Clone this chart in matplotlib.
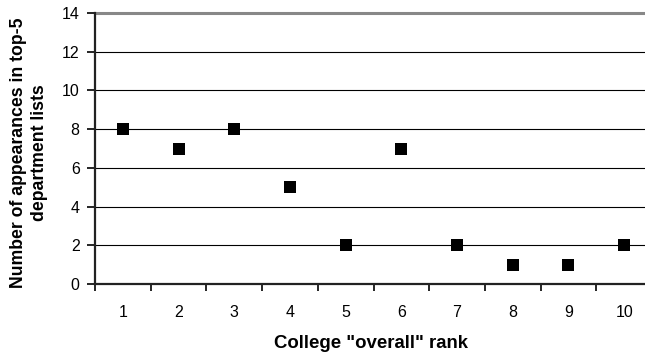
import matplotlib.pyplot as plt
import numpy as np

plt.rcParams['font.family'] = ['Liberation Sans', 'DejaVu Sans']

# college overall rank vs appearances in top-5 department lists
ranks = [1, 2, 3, 4, 5, 6, 7, 8, 9, 10]
appearances = [8, 7, 8, 5, 2, 7, 2, 1, 1, 2]
y_ticks = [0, 2, 4, 6, 8, 10, 12, 14]

fig = plt.figure(figsize=(6.45, 3.58), dpi=100)
# axes runs a little past the right edge, like the original
ax = fig.add_axes([95 / 645, 74 / 358, 557 / 645, 271 / 358])

ax.set_xlim(0.5, 10.5)
ax.set_ylim(0, 14)

# gridlines
for v in y_ticks[1:-1]:
    ax.axhline(v, color='black', lw=0.8, zorder=1)
ax.axhline(14, color='#888888', lw=2.2, zorder=1, clip_on=False)

ax.scatter(ranks, appearances, marker='s', s=85, color='black', zorder=3, linewidths=0)

for s in ['top', 'right']:
    ax.spines[s].set_visible(False)
for s in ['left', 'bottom']:
    ax.spines[s].set_linewidth(1.6)
    ax.spines[s].set_color('#222222')

ax.set_yticks(y_ticks)
ax.tick_params(axis='y', direction='out', length=6, width=1.2, labelsize=11.5, pad=5)

ax.set_xticks(ranks)
ax.set_xticks(np.arange(0.5, 11, 1), minor=True)
ax.tick_params(axis='x', which='major', length=0, labelsize=11.5, pad=15)
ax.tick_params(axis='x', which='minor', direction='out', length=5, width=1.2)

fig.text(371 / 645, 1 - 343 / 358, 'College "overall" rank', fontsize=13.4,
         fontweight='bold', ha='center', va='center')
fig.text(29 / 645, 1 - 153 / 358, 'Number of appearances in top-5\ndepartment lists',
         fontsize=12.7, fontweight='bold', rotation=90, ha='center', va='center',
         multialignment='center', linespacing=1.35)

fig.savefig('out.png', dpi=100)
